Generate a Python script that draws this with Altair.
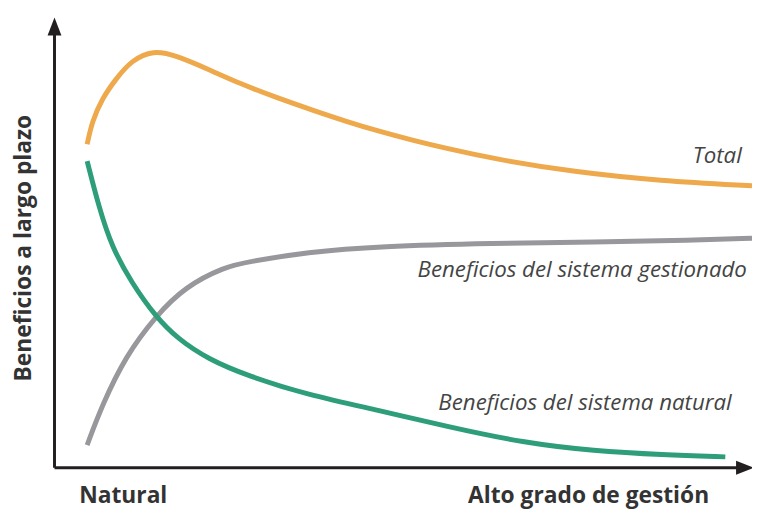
import altair as alt
import pandas as pd

# Units: x = degree of management (0 at the axis corner), y = long-term benefits
total_x = [33, 38, 48, 62, 78, 100, 122, 155, 188, 222, 262, 295, 328, 362, 395, 445, 525, 612, 705]
total_y = [327, 350, 373, 393, 412, 422, 417, 403, 388, 375, 361, 350, 340, 331, 323, 312, 299, 290, 285]

natural_x = [33, 45, 58, 78, 102, 125, 155, 195, 255, 328, 395, 475, 545, 615, 678]
natural_y = [310, 263, 223, 187, 153, 130, 110, 93, 74, 58, 42, 25, 17, 13, 11]

managed_x = [33, 48, 72, 102, 132, 172, 195, 255, 328, 445, 545, 645, 705]
managed_y = [23, 63, 113, 153, 183, 203, 208, 218, 224, 227, 228, 230, 232]

series_labels = ["Total", "Beneficios del sistema gestionado", "Beneficios del sistema natural"]
series_label_x = [645, 367, 388]
series_label_y = [315, 200, 65]

x_labels = ["Natural", "Alto grado de gestión"]
x_label_pos = [25, 418]
y_title = "Beneficios a largo plazo"

X_DOMAIN = [0, 690]
Y_DOMAIN = [0, 450]
FONT = "Open Sans"

xs = alt.Scale(domain=X_DOMAIN, nice=False, zero=False)
ys = alt.Scale(domain=Y_DOMAIN, nice=False, zero=False)


def line_layer(xv, yv, color):
    df = pd.DataFrame({"x": xv, "y": yv})
    return alt.Chart(df).mark_line(
        color=color, strokeWidth=5, interpolate="basis", clip=False
    ).encode(
        x=alt.X("x:Q", scale=xs, axis=None),
        y=alt.Y("y:Q", scale=ys, axis=None),
        order="x:Q",
    )


total = line_layer(total_x, total_y, "#EEA94C")
natural = line_layer(natural_x, natural_y, "#2E9E7A")
managed = line_layer(managed_x, managed_y, "#98989C")

# axes
axis_df = pd.DataFrame({"x": [0], "y": [0], "x2": [692], "y2": [438]})
x_axis = alt.Chart(axis_df).mark_rule(color="#231F20", strokeWidth=3, clip=False).encode(
    x=alt.X("x:Q", scale=xs, axis=None), x2="x2:Q",
    y=alt.Y("y:Q", scale=ys, axis=None),
)
y_axis = alt.Chart(axis_df).mark_rule(color="#231F20", strokeWidth=3, clip=False).encode(
    x=alt.X("x:Q", scale=xs, axis=None),
    y=alt.Y("y:Q", scale=ys, axis=None), y2="y2:Q",
)
arrow_path = "M0,-1.3L1,1.3L-1,1.3Z"
up_df = pd.DataFrame({"x": [0], "y": [446]})
right_df = pd.DataFrame({"x": [698], "y": [0]})
up_arrow = alt.Chart(up_df).mark_point(
    shape=arrow_path, size=196, filled=True, color="#231F20", opacity=1, clip=False
).encode(x=alt.X("x:Q", scale=xs, axis=None), y=alt.Y("y:Q", scale=ys, axis=None))
right_arrow = alt.Chart(right_df).mark_point(
    shape=arrow_path, size=196, filled=True, color="#231F20", opacity=1, angle=90, clip=False
).encode(x=alt.X("x:Q", scale=xs, axis=None), y=alt.Y("y:Q", scale=ys, axis=None))

# series labels
lab_df = pd.DataFrame({"t": series_labels, "x": series_label_x, "y": series_label_y})
labels = alt.Chart(lab_df).mark_text(
    align="left", baseline="middle", font=FONT, fontStyle="italic", fontSize=22.5,
    color="#444444", clip=False
).encode(x=alt.X("x:Q", scale=xs, axis=None), y=alt.Y("y:Q", scale=ys, axis=None), text="t:N")

xl_df = pd.DataFrame({"t": x_labels, "x": x_label_pos, "y": [-29, -29]})
xlabels = alt.Chart(xl_df).mark_text(
    align="left", baseline="middle", font=FONT, fontWeight="bold", fontSize=23,
    color="#333333", clip=False
).encode(x=alt.X("x:Q", scale=xs, axis=None), y=alt.Y("y:Q", scale=ys, axis=None), text="t:N")

yt_df = pd.DataFrame({"t": [y_title], "x": [-31], "y": [222]})
ytitle = alt.Chart(yt_df).mark_text(
    align="center", baseline="middle", font=FONT, fontWeight="bold", fontSize=23,
    color="#333333", angle=270, clip=False
).encode(x=alt.X("x:Q", scale=xs, axis=None), y=alt.Y("y:Q", scale=ys, axis=None), text="t:N")

chart = alt.layer(
    x_axis, y_axis, up_arrow, right_arrow, total, managed, natural, labels, xlabels, ytitle
).properties(
    width=690, height=450,
    padding={"left": 47, "top": 12, "right": 15, "bottom": 45},
    autosize=alt.AutoSizeParams(type="none"),
).configure_view(stroke=None)

chart.save("out.html", embed_options={"renderer": "svg", "actions": False})
